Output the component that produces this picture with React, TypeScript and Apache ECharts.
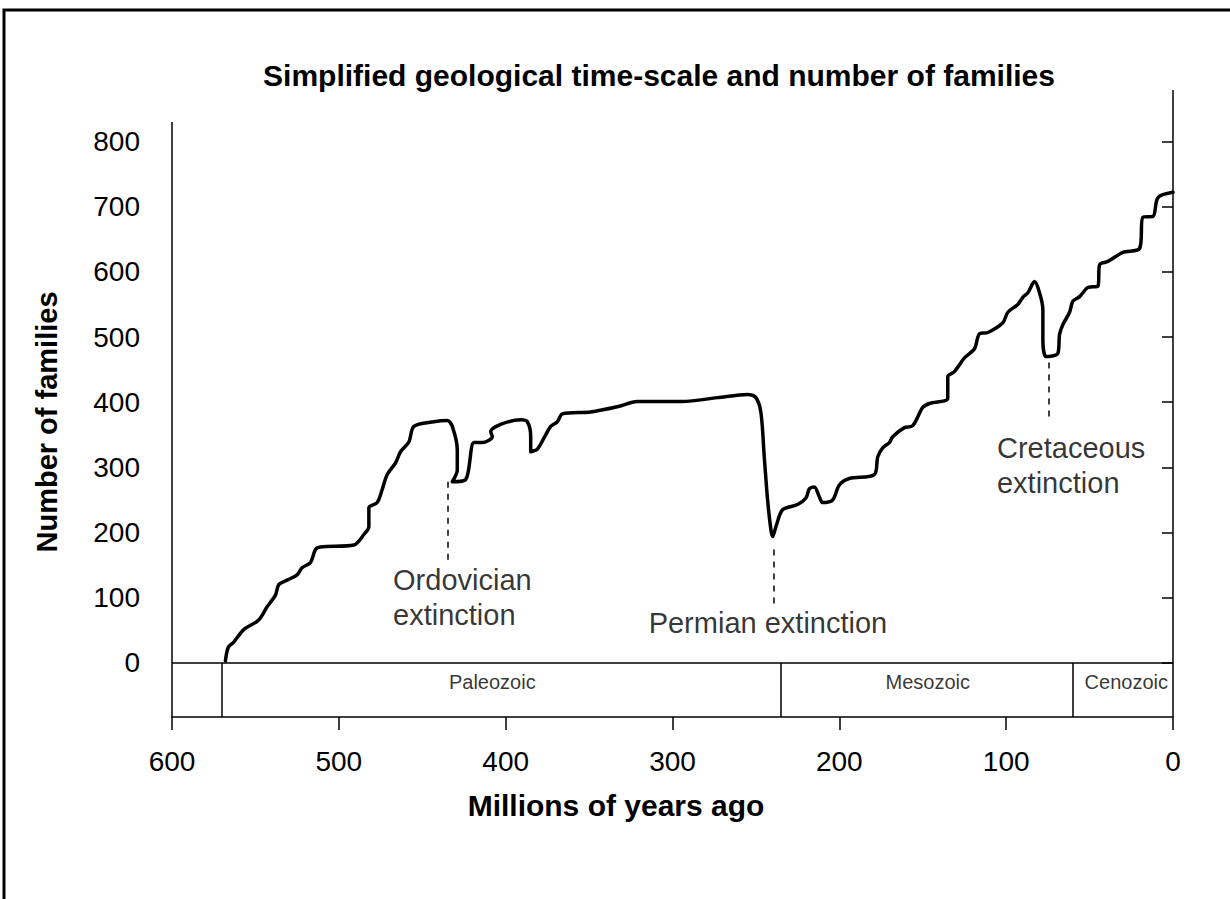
import React, { useEffect, useRef } from "react";
import * as echarts from "echarts";

// Number of families through time: [millions of years ago, families]
const familyCurve: [number, number][] = [
  [568, 3], [567, 18], [566, 25], [563, 32], [557, 51], [548, 66], [543, 86], [538, 104],
  [536, 120], [531, 127], [525, 135], [522, 146], [517, 154], [514, 174], [511, 178],
  [491, 181], [485, 197], [482, 209], [482, 238], [477, 246], [474, 266], [471, 289],
  [466, 307], [463, 324], [458, 339], [455, 363], [443, 370], [435, 372], [432, 363],
  [429, 327], [429, 296], [432, 278], [424, 281], [419, 338], [414, 338], [408, 347],
  [409, 355], [403, 366], [391, 373], [387, 370], [385, 347], [385, 324], [381, 328],
  [376, 350], [373, 363], [369, 370], [366, 382], [349, 385], [333, 393], [321, 401],
  [294, 401], [273, 407], [255, 412], [250, 407], [247, 384], [245, 316], [243, 250],
  [241, 204], [240, 194], [238, 209], [234, 235], [225, 243], [220, 253], [218, 267],
  [215, 270], [212, 255], [210, 246], [204, 250], [200, 273], [194, 283], [179, 289],
  [177, 316], [174, 330], [170, 338], [168, 347], [161, 361], [156, 364], [150, 392],
  [146, 398], [135, 406], [135, 439], [131, 447], [125, 468], [119, 482], [116, 505],
  [111, 507], [102, 522], [99, 538], [93, 550], [90, 561], [87, 568], [83, 585],
  [80, 568], [78, 542], [78, 496], [76, 470], [69, 475], [68, 504], [66, 519],
  [62, 538], [60, 555], [56, 562], [51, 576], [45, 578], [44, 611], [39, 616],
  [30, 630], [20, 636], [18, 684], [12, 685], [9, 714], [0, 722],
];

const yTicks = [0, 100, 200, 300, 400, 500, 600, 700, 800];
const xMin = 0;
const xMax = 600;
const yMin = -83; // bottom of the era band
const yMax = 879;
const yAxisTop = 830;

const eraBoundaries = [570, 235, 60];
const eraNames = ["Paleozoic", "Mesozoic", "Cenozoic"];
const eraLabelX = [408, 147, 28];
const eraLabelY = -29;

const extinctionNames = ["Ordovician\nextinction", "Permian extinction", "Cretaceous\nextinction"];
const extinctionLineX = [434.6, 239.2, 74.3];
const extinctionLineTop = [278, 174, 461];
const extinctionLineBottom = [154, 86, 370];
const extinctionLabelX = [467.5, 242.8, 105.5];
const extinctionLabelY = [100, 61, 303];
const extinctionAlign = ["left", "center", "left"];

const FONT = "'Liberation Sans', Arial, Helvetica, sans-serif";

export default function App() {
  const ref = useRef<HTMLDivElement>(null);

  useEffect(() => {
    document.body.style.margin = "0";
    if (!ref.current) return;
    const chart = echarts.init(ref.current, undefined, { renderer: "svg" });

    const solid = { type: "solid", color: "#000", width: 1.5 };
    const structureLines: any[] = [
      // left axis line
      [{ coord: [xMax, yMin] }, { coord: [xMax, yAxisTop] }],
      // right axis line
      [{ coord: [xMin, yMin] }, { coord: [xMin, yMax] }],
      // zero line
      [{ coord: [xMax, 0] }, { coord: [xMin, 0] }],
      ...eraBoundaries.map((b) => [{ coord: [b, 0] }, { coord: [b, yMin] }]),
      ...extinctionLineX.map((x, i) => [
        { coord: [x, extinctionLineTop[i]], lineStyle: { type: [6, 6], color: "#000", width: 1.5 } },
        { coord: [x, extinctionLineBottom[i]] },
      ]),
    ];

    const labelData: any[] = [
      ...eraNames.map((n, i) => ({
        value: [eraLabelX[i], eraLabelY],
        name: n,
        label: { fontSize: 20, color: "#000", align: "center", verticalAlign: "middle" },
      })),
      ...extinctionNames.map((n, i) => ({
        value: [extinctionLabelX[i], extinctionLabelY[i]],
        name: n,
        label: {
          fontSize: 29,
          lineHeight: 35,
          color: "#000",
          align: extinctionAlign[i],
          verticalAlign: "middle",
        },
      })),
    ];

    chart.setOption({
      animation: false,
      backgroundColor: "#fff",
      textStyle: { fontFamily: FONT, color: "#000" },
      grid: { left: 172, right: 57, top: 90, bottom: 182, containLabel: false },
      xAxis: {
        type: "value",
        min: xMin,
        max: xMax,
        interval: 100,
        inverse: true,
        splitLine: { show: false },
        axisLine: { show: true, onZero: false, lineStyle: { color: "#000", width: 1.5 } },
        axisTick: { show: true, length: 13, lineStyle: { color: "#000", width: 1.5 } },
        axisLabel: { fontSize: 28, color: "#000", margin: 30, fontFamily: FONT },
      },
      yAxis: {
        type: "value",
        min: yMin,
        max: yMax,
        splitLine: { show: false },
        axisLine: { show: false },
        axisTick: { show: true, length: 11, customValues: yTicks, lineStyle: { color: "#000", width: 1.5 } },
        axisLabel: { fontSize: 28, color: "#000", margin: 32, customValues: yTicks, fontFamily: FONT },
      },
      graphic: [
        {
          type: "rect",
          shape: { x: 4, y: 10, width: 1400, height: 1000 },
          style: { fill: "none", stroke: "#000", lineWidth: 3 },
          silent: true,
        },
        {
          type: "text",
          x: 659,
          y: 75,
          style: {
            text: "Simplified geological time-scale and number of families",
            font: `bold 30px ${FONT}`,
            fill: "#000",
            textAlign: "center",
            textVerticalAlign: "middle",
          },
        },
        {
          type: "text",
          x: 616,
          y: 805,
          style: {
            text: "Millions of years ago",
            font: `bold 30px ${FONT}`,
            fill: "#000",
            textAlign: "center",
            textVerticalAlign: "middle",
          },
        },
        {
          type: "text",
          x: 47,
          y: 422,
          rotation: Math.PI / 2,
          style: {
            text: "Number of families",
            font: `bold 29px ${FONT}`,
            fill: "#000",
            textAlign: "center",
            textVerticalAlign: "middle",
          },
        },
      ],
      series: [
        {
          type: "line",
          data: familyCurve,
          symbol: "none",
          clip: false,
          smooth: 0.3,
          lineStyle: { color: "#000", width: 3.5, join: "round", cap: "round" },
          markLine: {
            silent: true,
            symbol: ["none", "none"],
            label: { show: false },
            lineStyle: solid,
            animation: false,
            data: structureLines,
          },
          z: 3,
        },
        {
          type: "scatter",
          data: labelData,
          symbolSize: 0,
          silent: true,
          label: {
            show: true,
            position: [0, 0],
            color: "#000",
            fontFamily: FONT,
            formatter: (p: any) => p.name,
          },
          z: 4,
        },
      ],
    });

    return () => chart.dispose();
  }, []);

  return <div ref={ref} style={{ width: 1230, height: 899 }} />;
}
